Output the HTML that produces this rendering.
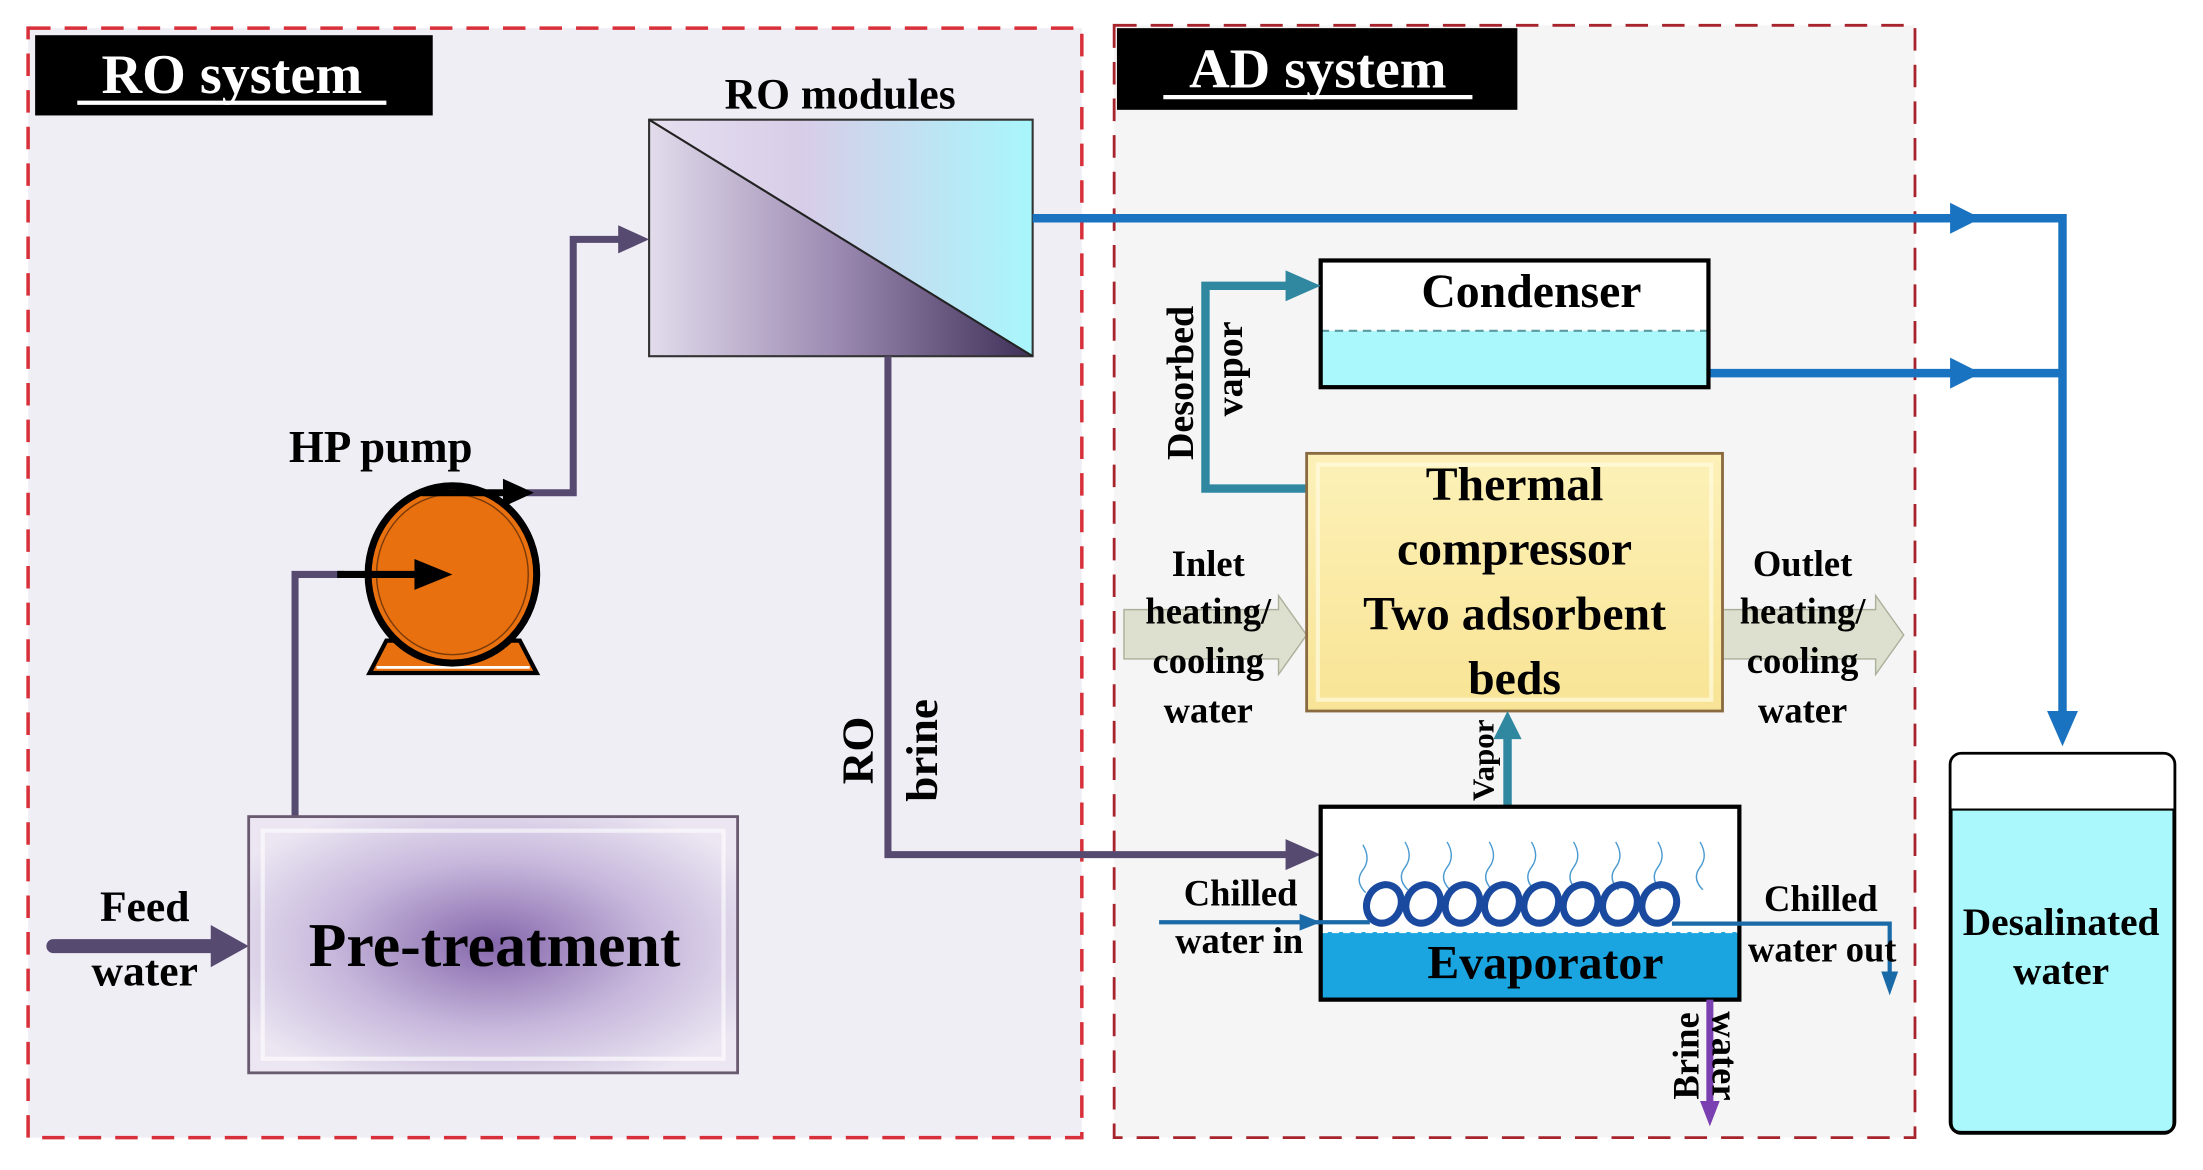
<!DOCTYPE html>
<html><head><meta charset="utf-8">
<style>
html,body{margin:0;padding:0;background:#fff;}
svg{display:block;}
text{font-family:"Liberation Serif",serif;font-weight:bold;fill:#000;}
</style></head>
<body>
<svg width="2203" height="1170" viewBox="0 0 1568 831" preserveAspectRatio="none" xmlns="http://www.w3.org/2000/svg">
<defs>
<linearGradient id="roTop" x1="0" y1="0" x2="1" y2="0">
<stop offset="0" stop-color="#e6e0f0"/><stop offset="0.4" stop-color="#d8cde8"/><stop offset="1" stop-color="#a8f6fc"/>
</linearGradient>
<linearGradient id="roBot" x1="0" y1="0" x2="1" y2="0">
<stop offset="0" stop-color="#e2dcec"/><stop offset="0.5" stop-color="#9a88b0"/><stop offset="1" stop-color="#3e3058"/>
</linearGradient>
<radialGradient id="pre" cx="0.5" cy="0.5" r="0.6">
<stop offset="0" stop-color="#8668ac"/><stop offset="0.55" stop-color="#c7b8dc"/><stop offset="1" stop-color="#ebe6f2"/>
</radialGradient>
<linearGradient id="yel" x1="0" y1="0" x2="0" y2="1">
<stop offset="0" stop-color="#fdf1b8"/><stop offset="1" stop-color="#f8e495"/>
</linearGradient>
</defs>

<rect x="20" y="20" width="750" height="788" fill="#f0eef5" stroke="#d8303a" stroke-width="2.5" stroke-dasharray="16,10"/>
<rect x="793" y="18" width="570" height="790" fill="#f5f5f6" stroke="#a8242c" stroke-width="2" stroke-dasharray="16,10"/>

<rect x="25" y="25" width="283" height="57" fill="#000"/>
<text x="165" y="66" font-size="40" text-anchor="middle" style="fill:#fff">RO system</text>
<line x1="55" y1="73" x2="275" y2="73" stroke="#fff" stroke-width="3"/>
<rect x="795" y="20" width="285" height="58" fill="#000"/>
<text x="938" y="62" font-size="40" text-anchor="middle" style="fill:#fff">AD system</text>
<line x1="828" y1="69" x2="1048" y2="69" stroke="#fff" stroke-width="3"/>

<text x="598" y="77" font-size="31" text-anchor="middle">RO modules</text>
<polygon points="462,85 735,85 735,253" fill="url(#roTop)"/>
<polygon points="462,85 735,253 462,253" fill="url(#roBot)"/>
<rect x="462" y="85" width="273" height="168" fill="none" stroke="#333" stroke-width="1.5"/>
<line x1="462" y1="85" x2="735" y2="253" stroke="#222" stroke-width="1.5"/>

<polyline points="210,580 210,408 245,408" fill="none" stroke="#574a70" stroke-width="5"/>
<polyline points="375,350 408,350 408,170 445,170" fill="none" stroke="#574a70" stroke-width="5"/>
<polygon points="440,160 462,170 440,180" fill="#574a70"/>
<polyline points="632,253 632,607 920,607" fill="none" stroke="#574a70" stroke-width="5"/>
<polygon points="915,596 940,607 915,618" fill="#574a70"/>
<line x1="38" y1="672" x2="155" y2="672" stroke="#574a70" stroke-width="10" stroke-linecap="round"/>
<polygon points="150,657 177,672 150,687" fill="#574a70"/>

<text x="271" y="328" font-size="32" text-anchor="middle">HP pump</text>
<polygon points="275,455 370,455 382,478 263,478" fill="#e8700f" stroke="#000" stroke-width="3"/>
<line x1="268" y1="474" x2="377" y2="474" stroke="#fff" stroke-width="2"/>
<ellipse cx="322" cy="408" rx="60" ry="63" fill="#e8700f" stroke="#000" stroke-width="5"/>
<ellipse cx="322" cy="408" rx="54" ry="57" fill="none" stroke="#7a3a0a" stroke-width="1"/>
<line x1="240" y1="408" x2="300" y2="408" stroke="#000" stroke-width="5"/>
<polygon points="295,397 322,408 295,419" fill="#000"/>
<path d="M300,350 L362,350" stroke="#000" stroke-width="5"/>
<polygon points="358,340 380,350 358,360" fill="#000"/>

<rect x="177" y="580" width="348" height="182" fill="url(#pre)" stroke="#6a5a70" stroke-width="2"/>
<rect x="187" y="590" width="328" height="162" fill="none" stroke="#fff" stroke-opacity="0.6" stroke-width="3"/>
<text x="352" y="686" font-size="44" text-anchor="middle">Pre-treatment</text>
<text x="103" y="654" font-size="31" text-anchor="middle">Feed</text>
<text x="103" y="700" font-size="31" text-anchor="middle">water</text>

<text transform="translate(621,533) rotate(-90)" font-size="32" text-anchor="middle">RO</text>
<text transform="translate(667,533) rotate(-90)" font-size="32" text-anchor="middle">brine</text>

<polyline points="735,155 1468,155 1468,515" fill="none" stroke="#1a73c0" stroke-width="6"/>
<polygon points="1388,144 1410,155 1388,166" fill="#1a73c0"/>
<polygon points="1457,505 1468,530 1479,505" fill="#1a73c0"/>
<line x1="1216" y1="265" x2="1468" y2="265" stroke="#1a73c0" stroke-width="6"/>
<polygon points="1388,254 1410,265 1388,276" fill="#1a73c0"/>

<rect x="940" y="185" width="276" height="90" fill="#fff"/>
<rect x="940" y="235" width="276" height="40" fill="#aaf8fc"/>
<line x1="940" y1="235" x2="1216" y2="235" stroke="#5a9aa0" stroke-width="1.5" stroke-dasharray="6,4"/>
<rect x="940" y="185" width="276" height="90" fill="none" stroke="#000" stroke-width="3"/>
<text x="1090" y="218" font-size="34" text-anchor="middle">Condenser</text>

<polyline points="930,347 858,347 858,203 920,203" fill="none" stroke="#2f88a0" stroke-width="6"/>
<polygon points="915,192 940,203 915,214" fill="#2f88a0"/>
<text transform="translate(849,272) rotate(-90)" font-size="27" text-anchor="middle">Desorbed</text>
<text transform="translate(884,262) rotate(-90)" font-size="27" text-anchor="middle">vapor</text>

<polygon points="800,433 910,433 910,423 930,451 910,479 910,468 800,468" fill="#dde0cf" stroke="#aab09a" stroke-width="1"/>
<polygon points="1226,433 1335,433 1335,423 1355,451 1335,479 1335,468 1226,468" fill="#dde0cf" stroke="#aab09a" stroke-width="1"/>

<rect x="930" y="322" width="296" height="183" fill="url(#yel)" stroke="#8a6a40" stroke-width="2"/>
<rect x="938" y="330" width="280" height="167" fill="none" stroke="#fffbe0" stroke-opacity="0.7" stroke-width="3"/>
<text x="1078" y="355" font-size="34" text-anchor="middle">Thermal</text>
<text x="1078" y="401" font-size="34" text-anchor="middle">compressor</text>
<text x="1078" y="447" font-size="34" text-anchor="middle">Two adsorbent</text>
<text x="1078" y="493" font-size="34" text-anchor="middle">beds</text>

<text x="860" y="409" font-size="26" text-anchor="middle">Inlet</text>
<text x="860" y="443" font-size="26" text-anchor="middle">heating/</text>
<text x="860" y="478" font-size="26" text-anchor="middle">cooling</text>
<text x="860" y="513" font-size="26" text-anchor="middle">water</text>
<text x="1283" y="409" font-size="26" text-anchor="middle">Outlet</text>
<text x="1283" y="443" font-size="26" text-anchor="middle">heating/</text>
<text x="1283" y="478" font-size="26" text-anchor="middle">cooling</text>
<text x="1283" y="513" font-size="26" text-anchor="middle">water</text>

<line x1="1073" y1="573" x2="1073" y2="522" stroke="#2f88a0" stroke-width="6"/>
<polygon points="1063,525 1073,505 1083,525" fill="#2f88a0"/>
<text transform="translate(1063,540) rotate(-90)" font-size="22" text-anchor="middle">Vapor</text>

<rect x="940" y="573" width="298" height="137" fill="#fff"/>
<rect x="940" y="662" width="298" height="48" fill="#1aa5e0"/>
<line x1="940" y1="662" x2="1238" y2="662" stroke="#fff" stroke-width="1.5" stroke-dasharray="5,3"/>
<g fill="none" stroke="#4a9ad0" stroke-width="1">
<path d="M970,600 q6,10 0,18 q-6,8 2,16"/><path d="M1000,598 q6,10 0,18 q-6,8 2,16"/>
<path d="M1030,598 q6,10 0,18 q-6,8 2,16"/><path d="M1060,598 q6,10 0,18 q-6,8 2,16"/>
<path d="M1090,598 q6,10 0,18 q-6,8 2,16"/><path d="M1120,598 q6,10 0,18 q-6,8 2,16"/>
<path d="M1150,598 q6,10 0,18 q-6,8 2,16"/><path d="M1180,598 q6,10 0,18 q-6,8 2,16"/>
<path d="M1210,598 q6,10 0,18 q-6,8 2,16"/>
</g>
<g fill="none" stroke="#1a4aa0" stroke-width="5">
<ellipse cx="985" cy="642" rx="12" ry="14" transform="rotate(25 985 642)"/>
<ellipse cx="1013" cy="642" rx="12" ry="14" transform="rotate(25 1013 642)"/>
<ellipse cx="1041" cy="642" rx="12" ry="14" transform="rotate(25 1041 642)"/>
<ellipse cx="1069" cy="642" rx="12" ry="14" transform="rotate(25 1069 642)"/>
<ellipse cx="1097" cy="642" rx="12" ry="14" transform="rotate(25 1097 642)"/>
<ellipse cx="1125" cy="642" rx="12" ry="14" transform="rotate(25 1125 642)"/>
<ellipse cx="1153" cy="642" rx="12" ry="14" transform="rotate(25 1153 642)"/>
<ellipse cx="1181" cy="642" rx="12" ry="14" transform="rotate(25 1181 642)"/>
</g>
<rect x="940" y="573" width="298" height="137" fill="none" stroke="#000" stroke-width="3"/>
<text x="1100" y="695" font-size="34" text-anchor="middle">Evaporator</text>

<line x1="825" y1="655" x2="975" y2="655" stroke="#1a6aa8" stroke-width="3"/>
<polygon points="925,649 940,655 925,661" fill="#1a6aa8"/>
<polyline points="1190,656 1345,656 1345,695" fill="none" stroke="#1a6aa8" stroke-width="3"/>
<polygon points="1339,690 1345,707 1351,690" fill="#1a6aa8"/>
<text x="883" y="643" font-size="26" text-anchor="middle">Chilled</text>
<text x="882" y="677" font-size="26" text-anchor="middle">water in</text>
<text x="1296" y="647" font-size="26" text-anchor="middle">Chilled</text>
<text x="1297" y="683" font-size="26" text-anchor="middle">water out</text>

<line x1="1217" y1="710" x2="1217" y2="785" stroke="#7a3fb0" stroke-width="5"/>
<polygon points="1210,782 1217,800 1224,782" fill="#7a3fb0"/>
<text transform="translate(1209,750) rotate(-90)" font-size="26" text-anchor="middle">Brine</text>
<text transform="translate(1219,750) rotate(90)" font-size="26" text-anchor="middle">water</text>

<rect x="1388" y="535" width="160" height="270" rx="8" fill="#fff" stroke="#000" stroke-width="2"/>
<path d="M1389,575 L1547,575 L1547,797 Q1547,804 1540,804 L1396,804 Q1389,804 1389,797 Z" fill="#aaf8fc" stroke="#000" stroke-width="1.5"/>
<text x="1467" y="664" font-size="28" text-anchor="middle">Desalinated</text>
<text x="1467" y="699" font-size="28" text-anchor="middle">water</text>
</svg>
</body></html>
